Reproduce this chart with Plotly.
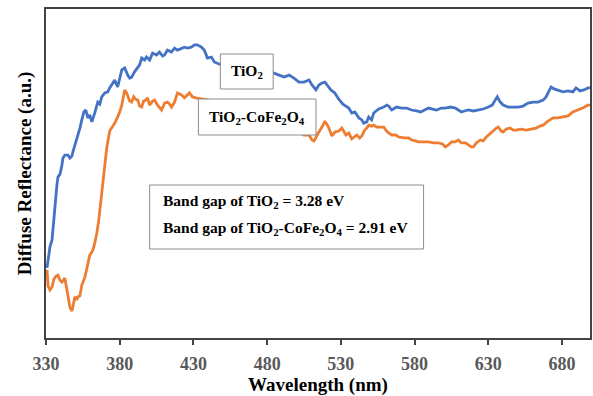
import plotly.graph_objects as go

# TiO2 (blue)
wl_tio2 = [330.7, 331.4, 332.7, 334.1, 334.7, 336.1, 337.4, 338.1, 339.5, 340.8, 341.5, 342.8, 344.9, 346.2,
           347.6, 348.2, 349.6, 351.6, 353.0, 354.3, 355.7, 357.0, 358.4, 359.7, 361.1, 363.1, 365.1, 366.5,
           367.8, 369.9, 371.9, 373.2, 374.6, 376.6, 378.6, 380.0, 381.4, 383.4, 385.4, 386.8, 388.1, 390.1,
           392.2, 393.5, 394.9, 396.9, 398.2, 400.3, 402.3, 405.0, 407.0, 409.1, 410.4, 412.4, 415.1, 417.2,
           419.2, 421.9, 423.9, 425.9, 428.6, 430.7, 432.7, 435.4, 437.4, 439.5, 442.2, 444.2, 446.2, 448.9,
           457.7, 467.8, 478.0, 484.7, 488.1, 491.5, 494.9, 498.2, 501.6, 505.0, 508.4, 510.4, 513.1, 515.1,
           517.2, 519.2, 521.2, 523.2, 525.9, 528.6, 531.4, 533.4, 535.4, 537.4, 539.5, 542.2, 544.2, 545.5,
           547.6, 548.9, 550.9, 552.3, 555.7, 559.1, 561.1, 562.4, 564.5, 567.8, 571.2, 574.6, 578.0, 581.4,
           584.1, 586.8, 589.5, 592.2, 594.9, 598.2, 600.9, 604.4, 607.7, 609.7, 611.8, 613.8, 616.5, 619.9,
           623.2, 626.6, 630.0, 632.7, 634.7, 636.1, 638.1, 640.1, 643.5, 646.9, 650.3, 653.6, 657.0, 660.4,
           663.8, 667.2, 669.2, 671.2, 672.6, 674.6, 677.3, 680.7, 684.1, 687.4, 689.5, 692.2, 694.9, 697.6,
           699.6]
r_tio2 = [21.3, 24.3, 27.7, 29.8, 33.4, 40.4, 46.5, 48.9, 49.8, 52.6, 54.7, 55.6, 55.6, 54.7,
          55.3, 56.5, 58.7, 61.1, 63.8, 66.3, 68.7, 69.3, 66.9, 67.8, 65.7, 68.4, 71.7, 71.1,
          73.3, 74.5, 74.8, 76.0, 76.9, 78.4, 76.3, 79.0, 81.5, 82.1, 79.9, 79.0, 79.3, 80.9,
          82.4, 83.0, 85.1, 84.5, 85.4, 84.5, 86.6, 86.0, 86.9, 85.7, 86.0, 87.5, 86.9, 88.1,
          87.5, 88.1, 88.4, 88.1, 88.4, 89.1, 89.1, 88.4, 87.5, 85.1, 85.4, 83.9, 83.6, 83.0,
          82.1, 81.5, 80.9, 80.5, 79.9, 79.3, 79.9, 79.0, 77.8, 77.8, 78.4, 76.9, 75.4, 76.9,
          77.5, 77.8, 76.6, 75.4, 74.5, 72.6, 71.1, 70.5, 69.9, 68.4, 68.7, 66.9, 66.3, 65.3,
          65.7, 67.2, 66.3, 68.4, 69.6, 70.2, 70.8, 70.5, 69.3, 70.2, 69.9, 69.9, 69.3, 69.0,
          68.7, 69.3, 69.9, 69.6, 69.3, 69.9, 69.9, 70.2, 69.9, 69.3, 68.7, 69.0, 69.3, 69.0,
          69.3, 69.6, 70.2, 70.8, 72.3, 73.3, 71.7, 70.8, 70.2, 70.2, 70.2, 70.5, 71.4, 71.7,
          71.7, 72.3, 73.3, 75.1, 76.3, 75.7, 75.4, 74.8, 75.1, 74.8, 76.0, 75.1, 75.4, 76.0,
          76.0]

# TiO2-CoFe2O4 (orange)
wl_comp = [330.7, 331.4, 332.7, 334.1, 335.4, 336.8, 338.1, 339.5, 340.8, 342.2, 342.8, 344.2, 344.9, 346.2,
           347.6, 348.9, 349.6, 350.9, 351.6, 353.0, 354.3, 356.4, 358.4, 359.7, 361.1, 361.8, 363.1, 364.5,
           365.8, 366.5, 367.8, 368.5, 369.9, 371.2, 373.2, 375.3, 376.6, 378.6, 380.0, 381.4, 382.7, 383.4,
           384.7, 385.4, 386.8, 388.1, 389.5, 390.8, 392.2, 393.5, 394.9, 396.2, 397.6, 398.9, 400.3, 402.3,
           403.6, 405.7, 407.0, 408.4, 410.4, 412.4, 413.8, 415.1, 417.2, 419.2, 420.5, 421.9, 423.9, 425.9,
           427.3, 429.3, 431.4, 440.8, 454.3, 467.8, 481.4, 494.9, 505.0, 508.4, 510.4, 511.8, 513.8, 515.1,
           517.2, 519.2, 520.5, 521.9, 523.9, 526.0, 528.6, 530.7, 533.4, 535.4, 537.4, 539.5, 540.8, 542.8,
           544.2, 546.2, 547.6, 548.9, 550.9, 552.3, 554.3, 557.0, 559.1, 561.1, 562.4, 564.5, 567.2, 569.2,
           572.6, 576.0, 578.0, 580.7, 582.7, 586.1, 589.5, 592.8, 596.2, 598.9, 600.9, 603.0, 605.0, 607.7,
           609.7, 611.8, 614.5, 616.5, 618.5, 619.9, 621.9, 624.6, 626.6, 628.7, 630.7, 633.4, 635.4, 636.8,
           638.8, 640.1, 642.2, 644.9, 646.9, 648.9, 652.3, 655.7, 659.1, 662.4, 665.1, 667.2, 670.5, 673.9,
           677.3, 680.7, 684.1, 687.4, 690.8, 692.8, 695.5, 697.6, 699.6]
r_comp = [20.7, 15.8, 14.6, 15.5, 17.9, 18.8, 19.1, 17.6, 17.0, 17.9, 18.2, 14.6, 12.8, 9.4,
          8.2, 10.9, 12.5, 11.6, 12.5, 12.8, 16.1, 18.5, 22.8, 25.2, 26.1, 26.7, 28.9, 31.9,
          35.9, 38.9, 45.0, 48.0, 54.1, 57.8, 62.9, 64.4, 65.3, 67.2, 68.7, 70.8, 74.2, 75.4,
          74.5, 73.6, 72.0, 71.7, 73.3, 72.6, 72.3, 70.5, 70.2, 72.0, 72.3, 73.0, 70.8, 72.0,
          72.3, 70.8, 69.9, 69.3, 71.4, 71.7, 71.1, 70.2, 71.7, 74.5, 74.2, 73.9, 73.0, 73.9,
          74.5, 73.3, 73.0, 72.3, 71.7, 69.9, 67.8, 64.7, 61.7, 61.7, 60.2, 59.9, 61.7, 62.6,
          64.1, 65.9, 65.0, 63.8, 61.4, 62.6, 62.9, 63.8, 61.7, 62.3, 60.5, 61.4, 61.7, 60.8,
          61.4, 63.2, 63.8, 64.7, 64.4, 64.7, 64.1, 64.1, 64.1, 62.9, 62.3, 61.7, 61.7, 61.1,
          60.8, 60.8, 60.2, 59.9, 59.6, 59.6, 59.6, 59.3, 59.3, 59.0, 58.1, 58.7, 59.6, 59.6,
          60.2, 59.3, 59.3, 58.7, 58.1, 58.1, 59.3, 60.2, 59.9, 61.1, 62.0, 63.2, 63.8, 64.1,
          62.9, 62.6, 63.5, 63.8, 63.2, 63.2, 63.5, 63.2, 63.5, 63.8, 64.4, 64.7, 65.9, 66.9,
          66.9, 67.2, 67.5, 68.7, 69.3, 69.9, 70.2, 70.8, 70.8]

x_ticks = [330, 380, 430, 480, 530, 580, 630, 680]

label_tio2 = "TiO<sub>2</sub>"
label_comp = "TiO<sub>2</sub>-CoFe<sub>2</sub>O<sub>4</sub>"
gap_line1 = "Band gap of TiO<sub>2</sub> = 3.28 eV"
gap_line2 = "Band gap of TiO<sub>2</sub>-CoFe<sub>2</sub>O<sub>4</sub> = 2.91 eV"

SERIF = "Liberation Serif"

fig = go.Figure()
fig.add_trace(go.Scatter(x=wl_tio2, y=r_tio2, mode="lines",
                         line=dict(color="#4472C4", width=2.8), showlegend=False))
fig.add_trace(go.Scatter(x=wl_comp, y=r_comp, mode="lines",
                         line=dict(color="#ED7D31", width=2.8), showlegend=False))

box_line = dict(color="#8c8c8c", width=1)
# label boxes (paper coords)
fig.add_shape(type="rect", xref="paper", yref="paper", x0=0.3205, x1=0.4176, y0=0.7568, y1=0.8632,
              fillcolor="white", line=box_line, layer="above")
fig.add_shape(type="rect", xref="paper", yref="paper", x0=0.2802, x1=0.4963, y0=0.617, y1=0.7264,
              fillcolor="white", line=box_line, layer="above")
fig.add_shape(type="rect", xref="paper", yref="paper", x0=0.1905, x1=0.6941, y0=0.2705, y1=0.465,
              fillcolor="white", line=box_line, layer="above")

tfont = dict(family=SERIF, size=15.5, color="black")
fig.add_annotation(xref="paper", yref="paper", x=0.369, y=0.810, text="<b>" + label_tio2 + "</b>",
                   showarrow=False, font=tfont, xanchor="center", yanchor="middle")
fig.add_annotation(xref="paper", yref="paper", x=0.3883, y=0.6717, text="<b>" + label_comp + "</b>",
                   showarrow=False, font=tfont, xanchor="center", yanchor="middle")
fig.add_annotation(xref="paper", yref="paper", x=0.2106, y=0.4164, text="<b>" + gap_line1 + "</b>",
                   showarrow=False, font=tfont, xanchor="left", yanchor="middle")
fig.add_annotation(xref="paper", yref="paper", x=0.2106, y=0.3343, text="<b>" + gap_line2 + "</b>",
                   showarrow=False, font=tfont, xanchor="left", yanchor="middle")

fig.update_layout(
    width=593, height=396,
    margin=dict(l=46, r=1, t=9, b=58),
    plot_bgcolor="white", paper_bgcolor="white",
    font=dict(family=SERIF),
    xaxis=dict(
        range=[330, 699], tickmode="array", tickvals=x_ticks, ticktext=[str(v) for v in x_ticks],
        ticks="outside", ticklen=5, tickwidth=1.5, tickcolor="#444",
        tickfont=dict(family=SERIF, size=18, color="#595959", weight="bold"),
        ticklabelstandoff=4,
        showline=True, linecolor="#444", linewidth=1.5, mirror=True, showgrid=False, zeroline=False,
        title=dict(text="<b>Wavelength (nm)</b>", font=dict(family=SERIF, size=19, color="black"), standoff=6),
    ),
    yaxis=dict(
        range=[0, 100], showticklabels=False, ticks="", showgrid=False, zeroline=False,
        showline=True, linecolor="#444", linewidth=1.5, mirror=True,
        title=dict(text="<b>Diffuse Reflectance (a.u.)</b>", font=dict(family=SERIF, size=19, color="black"),
                   standoff=8),
    ),
)

fig.write_html("out.html")
